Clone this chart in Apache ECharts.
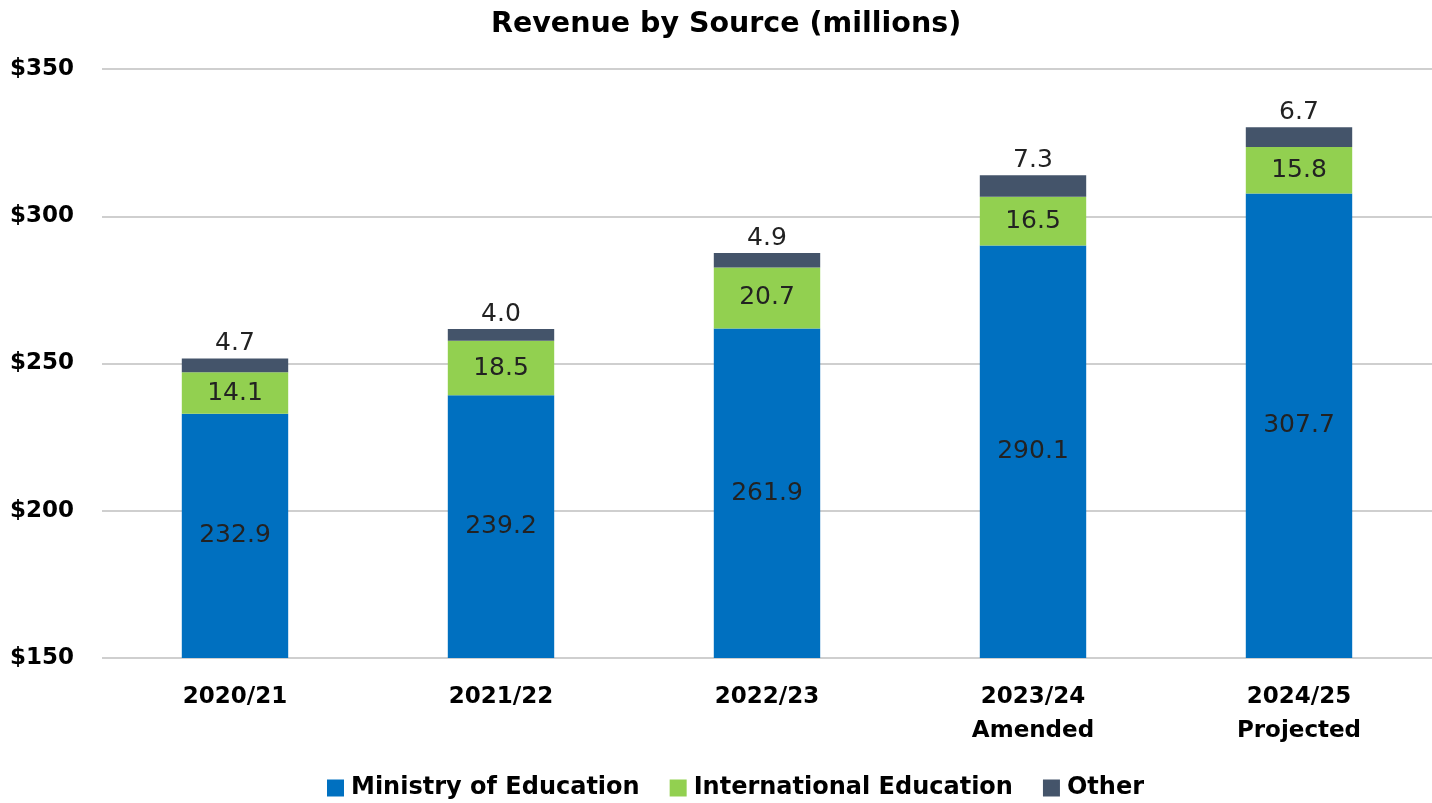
<!DOCTYPE html>
<html>
<head>
<meta charset="utf-8">
<script src="https://cdn.jsdelivr.net/npm/echarts@6/dist/echarts.min.js"></script>
<style>
  html, body { margin: 0; padding: 0; background: #fff; }
  #main { width: 1432px; height: 803px; }
</style>
</head>
<body>
<div id="main"></div>
<script>
var years = ['2020/21', '2021/22', '2022/23', '2023/24\nAmended', '2024/25\nProjected'];
var ministry = [232.9, 239.2, 261.9, 290.1, 307.7];
var international = [14.1, 18.5, 20.7, 16.5, 15.8];
var other = [4.7, 4.0, 4.9, 7.3, 6.7];

var font = 'DejaVu Sans';
var chart = echarts.init(document.getElementById('main'));

function fmt(p) { return p.value.toFixed(1); }

var labelStyle = { fontFamily: font, fontSize: 25, color: '#222', formatter: fmt };

var option = {
  animation: false,
  title: {
    text: 'Revenue by Source (millions)',
    left: 486,
    top: 5,
    textStyle: { fontFamily: font, fontSize: 28.5, fontWeight: 'bold', color: '#000' }
  },
  legend: {
    bottom: -2,
    left: 322,
    itemWidth: 17,
    itemHeight: 17,
    itemGap: 30,
    icon: 'rect',
    textStyle: { fontFamily: font, fontSize: 24, fontWeight: 'bold', color: '#000', padding: [0, 0, 0, 2] },
    data: ['Ministry of Education', 'International Education', 'Other']
  },
  grid: { left: 102, right: -10, top: 69, bottom: 145 },
  xAxis: {
    type: 'category',
    data: years,
    axisLine: { show: false },
    axisTick: { show: false },
    axisLabel: {
      margin: 22,
      fontFamily: font, fontSize: 23, fontWeight: 'bold', color: '#000', lineHeight: 34
    }
  },
  yAxis: {
    type: 'value',
    min: 150, max: 350, interval: 50,
    axisLine: { show: false },
    axisTick: { show: false },
    axisLabel: {
      margin: 28,
      fontFamily: font, fontSize: 23, fontWeight: 'bold', color: '#000',
      formatter: function (v) { return '$' + v; }
    },
    splitLine: { lineStyle: { color: '#cfcfcf', width: 2 } }
  },
  series: [
    {
      name: 'Ministry of Education', type: 'bar', stack: 'rev',
      barWidth: '40%',
      itemStyle: { color: '#0070C0' },
      label: Object.assign({ show: true, position: 'inside' }, labelStyle),
      data: ministry
    },
    {
      name: 'International Education', type: 'bar', stack: 'rev',
      itemStyle: { color: '#92D050' },
      label: Object.assign({ show: true, position: 'inside' }, labelStyle),
      data: international
    },
    {
      name: 'Other', type: 'bar', stack: 'rev',
      itemStyle: { color: '#44546A' },
      label: Object.assign({ show: true, position: 'top', distance: 2 }, labelStyle),
      data: other
    }
  ]
};
chart.setOption(option);
</script>
</body>
</html>
